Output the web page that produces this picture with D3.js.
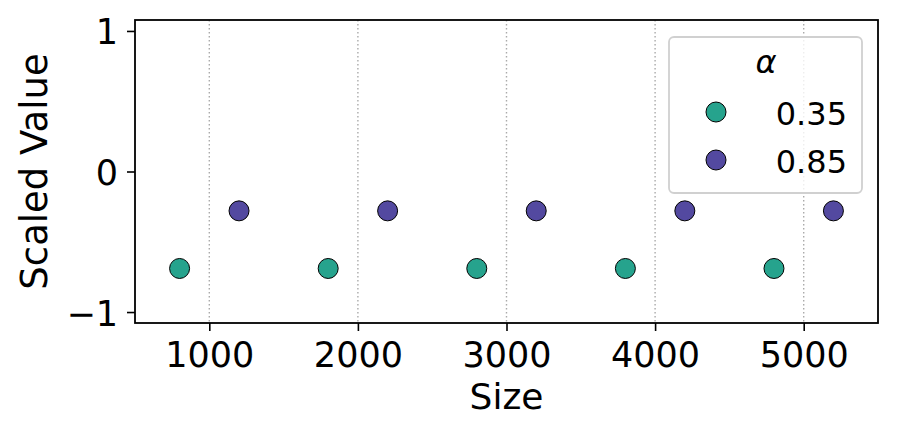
<!DOCTYPE html>
<head>
  <meta charset="utf-8">
  <script src="https://d3js.org/d3.v7.min.js"></script>
  <style>
body { margin: 0; background: #fff; }
svg { display: block; font-family: "DejaVu Sans", sans-serif; }
  </style>
</head>
<body>
<svg width="897" height="441"></svg>
<script>
// data
var alphas = ["0.35", "0.85"];
var colors = ["#26a38d", "#5349a0"];
var sizes035 = [800, 1800, 2800, 3800, 4800];
var values035 = [-0.69, -0.69, -0.69, -0.69, -0.69];
var sizes085 = [1200, 2200, 3200, 4200, 5200];
var values085 = [-0.28, -0.28, -0.28, -0.28, -0.28];
var xTicks = [1000, 2000, 3000, 4000, 5000];
var yTicks = [-1, 0, 1];

var series = [
  {name: alphas[0], color: colors[0], x: sizes035, y: values035},
  {name: alphas[1], color: colors[1], x: sizes085, y: values085}
];

var margin = {top: 20, right: 19, bottom: 118, left: 135};
var width = 897 - margin.left - margin.right;
var height = 441 - margin.top - margin.bottom;

var svg = d3.select("svg");
var g = svg.append("g")
    .attr("transform", "translate(" + margin.left + "," + margin.top + ")");

var x = d3.scaleLinear().domain([500, 5500]).range([0, width]);
var y = d3.scaleLinear().domain([-1.078, 1.078]).range([height, 0]);

// grid
g.selectAll("line.grid")
  .data(xTicks)
  .enter().append("line")
    .attr("class", "grid")
    .attr("x1", function(d) { return x(d); })
    .attr("x2", function(d) { return x(d); })
    .attr("y1", 0)
    .attr("y2", height)
    .attr("stroke", "#aaaaaa")
    .attr("stroke-width", 1.4)
    .attr("stroke-dasharray", "1.5,2.5");

// axes
var xAxis = g.append("g")
    .attr("transform", "translate(0," + height + ")")
    .call(d3.axisBottom(x).tickValues(xTicks).tickSize(8).tickPadding(6).tickFormat(d3.format("d")));
var yAxis = g.append("g")
    .call(d3.axisLeft(y).tickValues(yTicks).tickSize(8).tickPadding(9)
      .tickFormat(function(d) { return d < 0 ? "\u2212" + Math.abs(d) : d; }));

[xAxis, yAxis].forEach(function(a) {
  a.select(".domain").remove();
  a.selectAll(".tick line").attr("stroke", "#000").attr("stroke-width", 1.6);
  a.selectAll(".tick text").attr("fill", "#000").style("font-size", "35px")
    .style("font-family", "DejaVu Sans");
});
xAxis.selectAll(".tick text").attr("dy", "30px");
yAxis.selectAll(".tick text").attr("dy", "13px");

// frame
g.append("rect")
    .attr("width", width)
    .attr("height", height)
    .attr("fill", "none")
    .attr("stroke", "#000")
    .attr("stroke-width", 1.8);

// points
series.forEach(function(s) {
  g.selectAll(null)
    .data(s.x.map(function(v, i) { return [v, s.y[i]]; }))
    .enter().append("circle")
      .attr("cx", function(d) { return x(d[0]); })
      .attr("cy", function(d) { return y(d[1]); })
      .attr("r", 10)
      .attr("fill", s.color)
      .attr("stroke", "#000")
      .attr("stroke-width", 1);
});

// labels
svg.append("text")
    .attr("x", margin.left + width / 2)
    .attr("y", 409)
    .attr("text-anchor", "middle")
    .style("font-size", "36px")
    .text("Size");

svg.append("text")
    .attr("transform", "translate(47," + (margin.top + height / 2) + ") rotate(-90)")
    .attr("text-anchor", "middle")
    .style("font-size", "37px")
    .text("Scaled Value");

// legend
var lg = svg.append("g").attr("transform", "translate(669,37)");
lg.append("rect")
    .attr("width", 193)
    .attr("height", 156)
    .attr("rx", 5)
    .attr("fill", "#fff")
    .attr("fill-opacity", 0.8)
    .attr("stroke", "#d0d0d0")
    .attr("stroke-width", 1.8);
lg.append("text")
    .attr("x", 97)
    .attr("y", 36)
    .attr("text-anchor", "middle")
    .style("font-size", "32px")
    .style("font-style", "italic")
    .text("\u03b1");
var items = lg.selectAll("g.item")
  .data(series)
  .enter().append("g")
    .attr("class", "item")
    .attr("transform", function(d, i) { return "translate(0," + (75 + i * 48) + ")"; });
items.append("circle")
    .attr("cx", 47)
    .attr("r", 10)
    .attr("fill", function(d) { return d.color; })
    .attr("stroke", "#000")
    .attr("stroke-width", 1);
items.append("text")
    .attr("x", 178)
    .attr("y", 13)
    .attr("text-anchor", "end")
    .style("font-size", "32px")
    .text(function(d) { return d.name; });
</script>
</body>
